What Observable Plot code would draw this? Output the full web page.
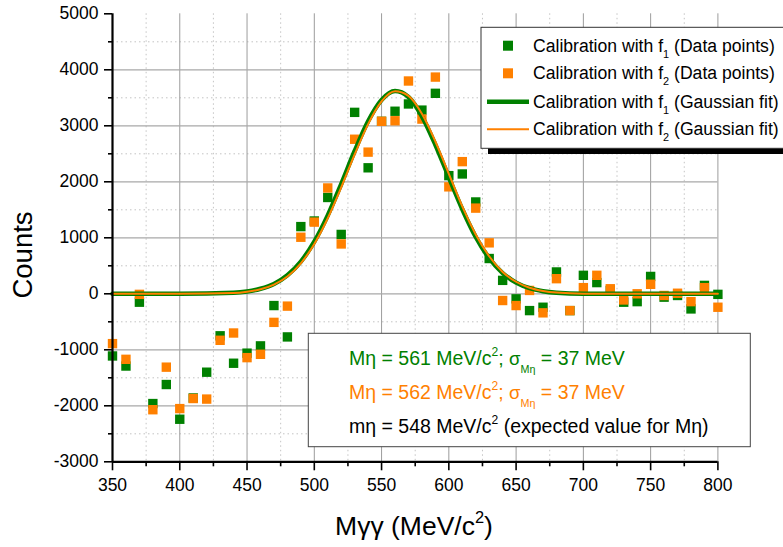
<!DOCTYPE html>
<html><head><meta charset="utf-8">
<script src="https://cdn.jsdelivr.net/npm/d3@7"></script>
<script src="https://cdn.jsdelivr.net/npm/@observablehq/plot@0.6"></script>
<style>body{margin:0;background:#fff;} svg{display:block;}</style>
</head><body><div id="chart"></div>
<script>
// ---- data ----
const massMeV = [350,360,370,380,390,400,410,420,430,440,450,460,470,480,490,500,510,520,530,540,550,560,570,580,590,600,610,620,630,640,650,660,670,680,690,700,710,720,730,740,750,760,770,780,790,800];
const countsF1 = [-1110,-1290,-150,-1960,-1620,-2240,-1860,-1400,-750,-1240,-1060,-930,-210,-770,1200,1300,1720,1060,3240,2250,3080,3260,3390,3280,3580,2110,2140,1640,630,240,-90,-300,-240,390,-300,330,200,60,-150,-140,310,-60,-30,-270,150,-10];
const countsF2 = [-890,-1170,-10,-2070,-1310,-2050,-1870,-1880,-830,-700,-1140,-1080,-510,-220,1010,1280,1890,890,2760,2530,3080,3090,3800,3120,3870,1910,2360,1530,910,-120,-210,60,-340,270,-300,110,330,90,-110,0,170,-30,10,-140,110,-240];
const fitMassMeV = [350,400,440,450,460,470,480,490,500,510,520,530,540,550,560,570,580,590,600,610,620,630,640,650,660,670,680,700,800];
const fitF1 = [0,0,17,40,90,175,330,575,930,1400,1960,2550,3080,3460,3620,3515,3170,2660,2080,1510,1015,635,370,200,100,47,20,3,0];
const fitF2 = [0,0,14,37,81,165,310,545,890,1350,1900,2490,3030,3435,3615,3535,3215,2720,2140,1560,1060,670,390,215,108,51,22,3,0];
const xTicks = [350,400,450,500,550,600,650,700,750,800];
const xMinor = [375,425,475,525,575,625,675,725,775];
const yTicks = [-3000,-2000,-1000,0,1000,2000,3000,4000,5000];
const yMinor = [-2500,-1500,-500,500,1500,2500,3500,4500];
const seriesNames = ["f1", "f2"];
const green = "#008000", orange = "#ff8000";

const pts1 = massMeV.map((m, i) => ({m, c: countsF1[i]}));
const pts2 = massMeV.map((m, i) => ({m, c: countsF2[i]}));
const fit1 = fitMassMeV.map((m, i) => ({m, c: fitF1[i]}));
const fit2 = fitMassMeV.map((m, i) => ({m, c: fitF2[i]}));

const font = "'Liberation Sans', Arial, sans-serif";
const plain = d => String(d);

const chart = Plot.plot({
  width: 783, height: 547,
  marginLeft: 112, marginRight: 65.6, marginTop: 13.3, marginBottom: 85.7,
  x: {domain: [350, 800]},
  y: {domain: [-3000, 5000]},
  style: {fontFamily: font, fontSize: "17.5px", color: "#000", background: "#fff"},
  marks: [
    Plot.gridX(xMinor, {stroke: "#c4c4c4", strokeOpacity: 1, strokeDasharray: "1.5,3"}),
    Plot.gridY(yMinor, {stroke: "#c4c4c4", strokeOpacity: 1, strokeDasharray: "1.5,3"}),
    Plot.gridX(xTicks.filter(d => d > 350), {stroke: "#9c9c9c", strokeOpacity: 1}),
    Plot.gridY(yTicks.filter(d => d > -3000 && d < 5000), {stroke: "#a8a8a8", strokeOpacity: 1, strokeWidth: 1.2}),
    Plot.dot(pts1, {x: "m", y: "c", symbol: "square", r: 5.3, fill: green}),
    Plot.dot(pts2, {x: "m", y: "c", symbol: "square", r: 5.3, fill: orange}),
    Plot.line(fit1, {x: "m", y: "c", stroke: green, strokeWidth: 4.5, curve: "monotone-x"}),
    Plot.line(fit2, {x: "m", y: "c", stroke: orange, strokeWidth: 2, curve: "monotone-x"}),
    Plot.axisX(xTicks, {tickSize: 9, tickPadding: 8, label: null, fontSize: 17.5, strokeWidth: 1.6, tickFormat: plain}),
    Plot.axisX(xMinor, {tickSize: 5, tickFormat: () => "", label: null, strokeWidth: 1.6}),
    Plot.axisY(yTicks, {tickSize: 8, tickPadding: 6, label: null, fontSize: 17.5, strokeWidth: 1.6, tickFormat: plain}),
    Plot.axisY(yMinor, {tickSize: 4, tickFormat: () => "", label: null, strokeWidth: 1.6}),
    Plot.ruleX([350], {strokeWidth: 2.2}),
    Plot.ruleY([-3000], {strokeWidth: 2.2})
  ]
});
document.getElementById("chart").appendChild(chart);

const svg = d3.select(chart);

// rich text helper: segments [text, mode] mode: n, sup, sub
function rich(g, x, y, size, color, segs, anchor = "start", subSize = 0.6, subShift = 0.33) {
  const t = g.append("text").attr("x", x).attr("y", y).attr("fill", color)
    .attr("text-anchor", anchor).attr("font-family", font).attr("font-size", size);
  let off = 0;
  segs.forEach(([txt, mode]) => {
    let target = 0, fs = size;
    if (mode === "sup") { target = -size * 0.46; fs = size * 0.62; }
    if (mode === "sub") { target = size * subShift; fs = size * subSize; }
    if (mode === "sm") { fs = size * 0.95; }
    t.append("tspan").attr("dy", target - off).attr("font-size", fs).text(txt);
    off = target;
  });
  return t;
}

// axis titles
rich(svg, 414, 535, 26.5, "#000", [["Mγγ (MeV/c", "n"], ["2", "sup"], [")", "n"]], "middle");
svg.append("text").attr("transform", "translate(32,255) rotate(-90)")
  .attr("text-anchor", "middle").attr("font-family", font).attr("font-size", 27.5).text("Counts");

// legend
const lg = svg.append("g");
lg.append("rect").attr("x", 488).attr("y", 34).attr("width", 320).attr("height", 120).attr("fill", "#000");
lg.append("rect").attr("x", 481).attr("y", 27.3).attr("width", 320).attr("height", 121).attr("fill", "#fff").attr("stroke", "#333").attr("stroke-width", 1);
const rows = [45.7, 73.3, 101.7, 129.3];
lg.append("rect").attr("x", 503).attr("y", rows[0] - 5).attr("width", 10).attr("height", 10).attr("fill", green);
lg.append("rect").attr("x", 503).attr("y", rows[1] - 5).attr("width", 10).attr("height", 10).attr("fill", orange);
lg.append("line").attr("x1", 487).attr("x2", 529).attr("y1", rows[2]).attr("y2", rows[2]).attr("stroke", green).attr("stroke-width", 4.5);
lg.append("line").attr("x1", 487).attr("x2", 529).attr("y1", rows[3]).attr("y2", rows[3]).attr("stroke", orange).attr("stroke-width", 2);
const legTexts = [[seriesNames[0], "(Data points)"], [seriesNames[1], "(Data points)"], [seriesNames[0], "(Gaussian fit)"], [seriesNames[1], "(Gaussian fit)"]];
legTexts.forEach(([s, tail], i) => {
  rich(lg, 533, rows[i] + 6, 17.6, "#000", [["Calibration with f", "n"], [s.slice(1), "sub"], [" " + tail, "n"]], "start", 0.62, 0.34);
});

// annotation box
const ab = svg.append("g");
ab.append("rect").attr("x", 308.3).attr("y", 333.3).attr("width", 442).attr("height", 113.4).attr("fill", "#fff").attr("stroke", "#444").attr("stroke-width", 1);
rich(ab, 349, 365, 19.5, green, [["Mη = 561 MeV/c", "n"], ["2", "sup"], ["; ", "n"], ["σ", "sm"], ["Mη", "sub"], [" = 37 MeV", "n"]], "start", 0.55, 0.4);
rich(ab, 349, 399, 19.5, orange, [["Mη = 562 MeV/c", "n"], ["2", "sup"], ["; ", "n"], ["σ", "sm"], ["Mη", "sub"], [" = 37 MeV", "n"]], "start", 0.55, 0.4);
rich(ab, 349, 433, 19.5, "#000", [["mη = 548 MeV/c", "n"], ["2", "sup"], [" (expected value for Mη)", "n"]]);
</script>
</body></html>
